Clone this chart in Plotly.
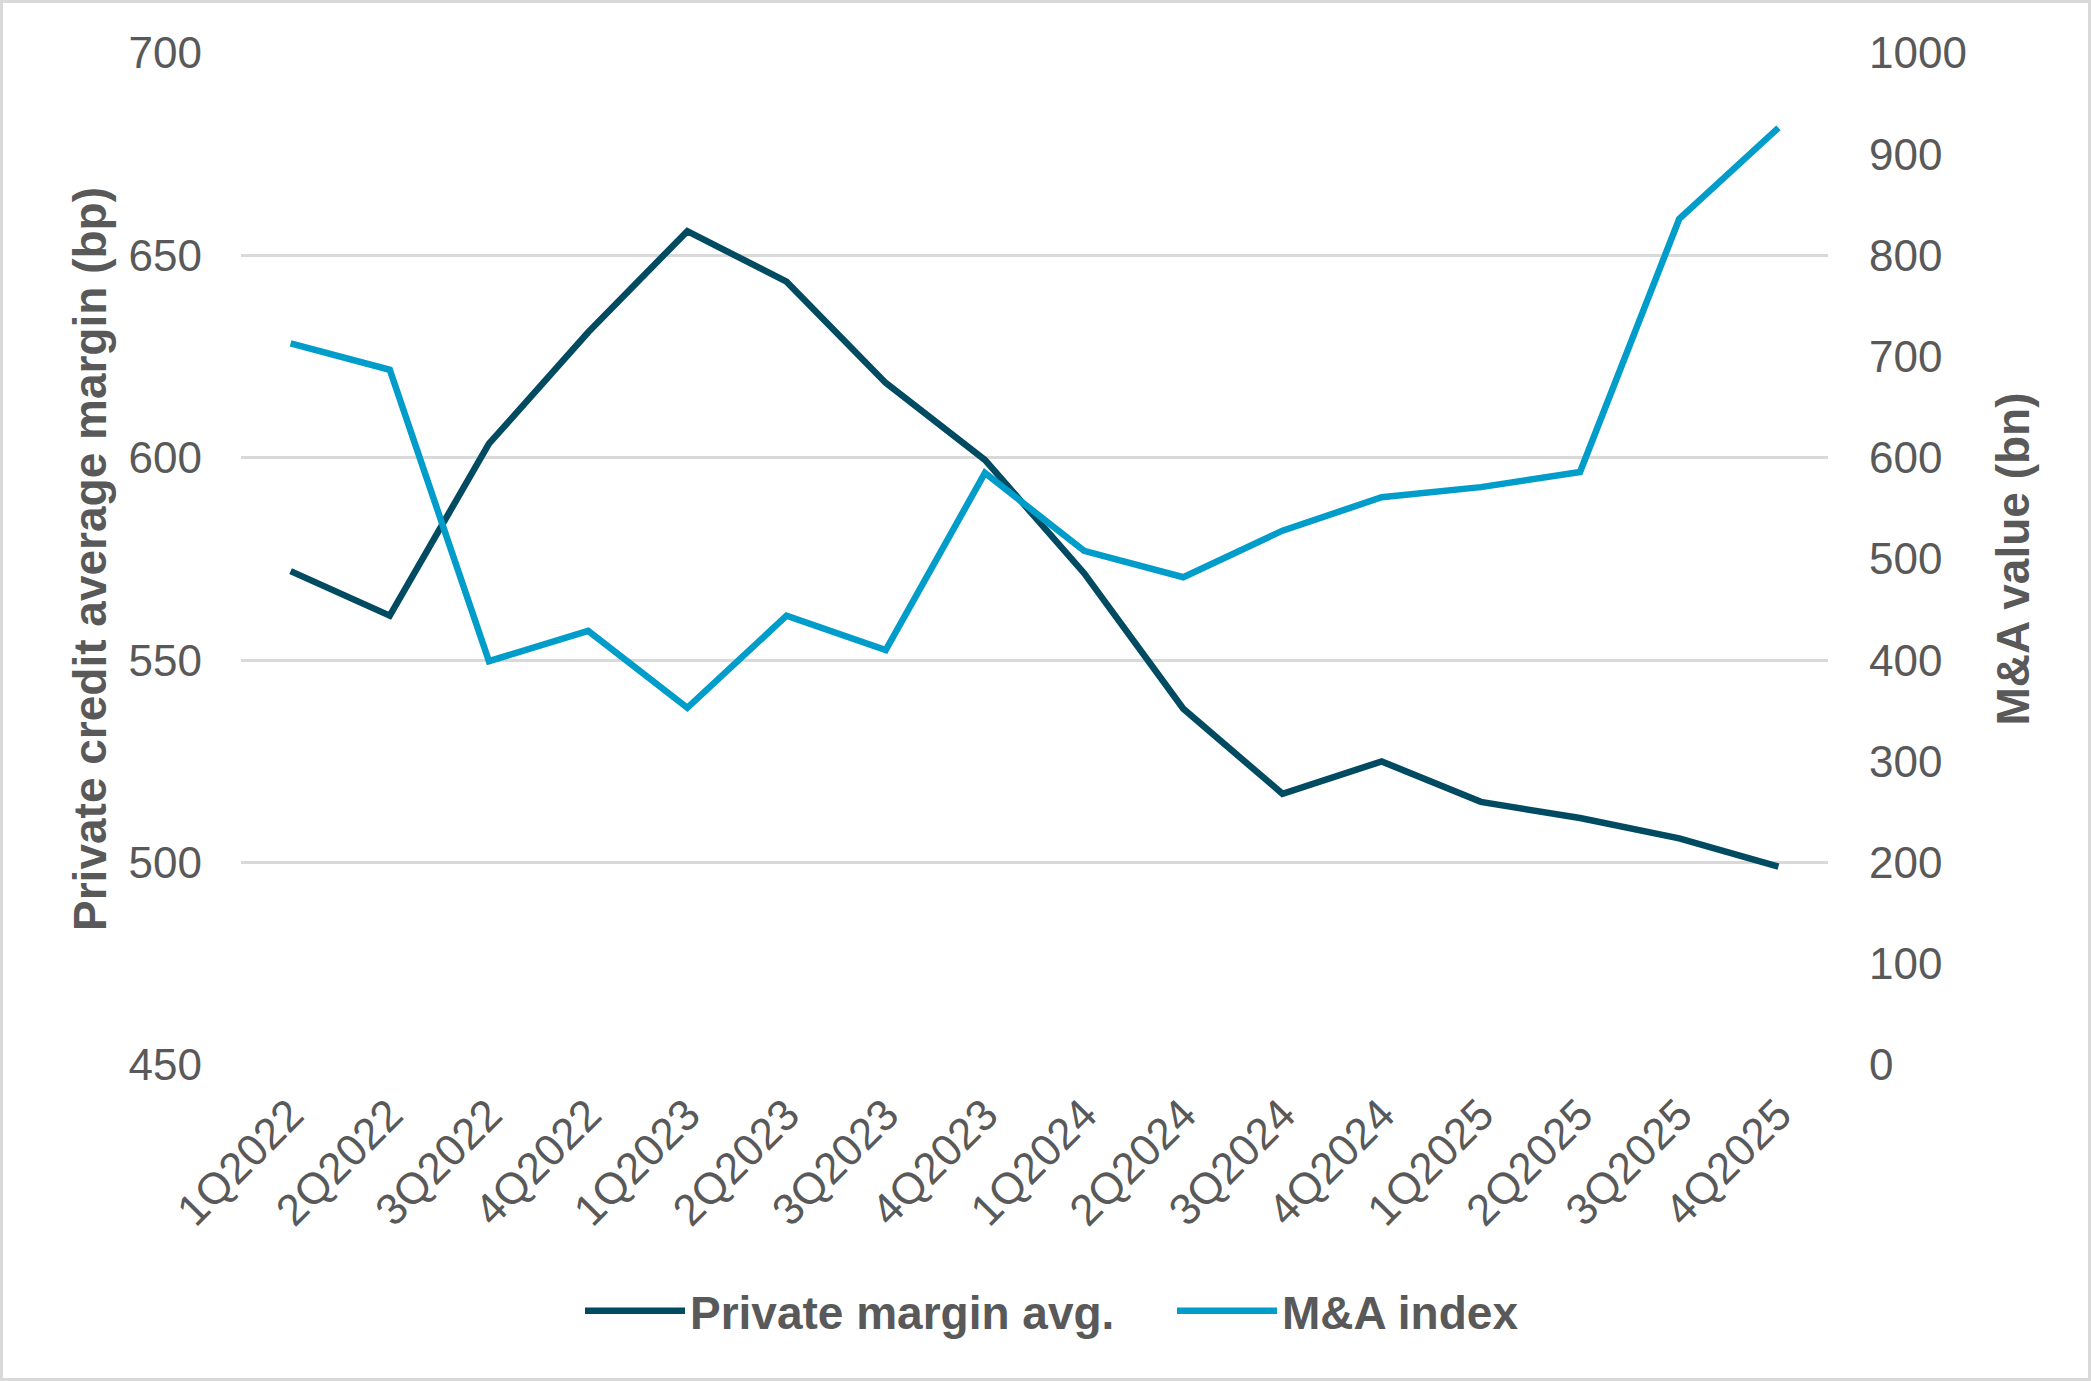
import plotly.graph_objects as go

quarters = ["1Q2022", "2Q2022", "3Q2022", "4Q2022", "1Q2023", "2Q2023", "3Q2023", "4Q2023",
            "1Q2024", "2Q2024", "3Q2024", "4Q2024", "1Q2025", "2Q2025", "3Q2025", "4Q2025"]
private_margin = [572, 561, 603.5, 631, 656, 643.5, 618.5, 599.5,
                  571.5, 538, 517, 525, 515, 511, 506, 499]
ma_index = [713, 687, 399, 429, 353, 444, 410, 585,
            508, 482, 528, 561, 571, 586, 836, 926]

DARK = "#004B61"
LIGHT = "#009CCA"
GREY = "#595959"
GRID = "#D9D9D9"
FONT = "Liberation Sans, Arial, sans-serif"

fig = go.Figure()
fig.add_trace(go.Scatter(x=quarters, y=private_margin, name="Private margin avg.",
                         mode="lines", line=dict(color=DARK, width=6.5), yaxis="y",
                         legendwidth=477))
fig.add_trace(go.Scatter(x=quarters, y=ma_index, name="M&A index",
                         mode="lines", line=dict(color=LIGHT, width=6.5), yaxis="y2"))

fig.update_layout(
    width=2091, height=1381,
    margin=dict(l=241, r=263, t=53, b=316),
    paper_bgcolor="white", plot_bgcolor="white",
    font=dict(family=FONT, color=GREY, size=44),
    showlegend=True,
    legend=dict(orientation="h", x=(580 - 241) / 1587, xanchor="left", y=-0.243, yanchor="middle",
                font=dict(size=46, color=GREY, family=FONT, weight="bold"),
                itemwidth=100, traceorder="normal"),
    xaxis=dict(type="category", range=[-0.5, 15.5], tickangle=-45, showgrid=False,
               showline=False, zeroline=False, ticks="", tickfont=dict(size=44, color=GREY),
               ticklabelstandoff=14),
    yaxis=dict(range=[450, 700], dtick=50, showgrid=True, gridcolor=GRID, gridwidth=3,
               zeroline=False, showline=False, ticks="", tickfont=dict(size=44, color=GREY),
               ticklabelstandoff=38,
               title=dict(text="Private credit average margin (bp)",
                          font=dict(size=46, color=GREY, family=FONT, weight="bold"),
                          standoff=7)),
    yaxis2=dict(range=[0, 1000], dtick=100, overlaying="y", side="right", showgrid=False,
                zeroline=False, showline=False, ticks="", tickfont=dict(size=44, color=GREY),
                ticklabelstandoff=40,
                title=dict(text="M&A value (bn)",
                           font=dict(size=46, color=GREY, family=FONT, weight="bold"),
                           standoff=30)),
    shapes=[dict(type="rect", xref="paper", yref="paper",
                 x0=(1.5 - 241) / 1587, x1=(2089.5 - 241) / 1587,
                 y0=(1065 - 1379.5) / 1012, y1=(1065 - 1.5) / 1012,
                 line=dict(color=GRID, width=3), fillcolor="rgba(0,0,0,0)", layer="below")],
)

fig.write_html("out.html", config={"displayModeBar": False},
               post_script="document.body.style.margin='0';document.body.style.overflow='hidden';")
